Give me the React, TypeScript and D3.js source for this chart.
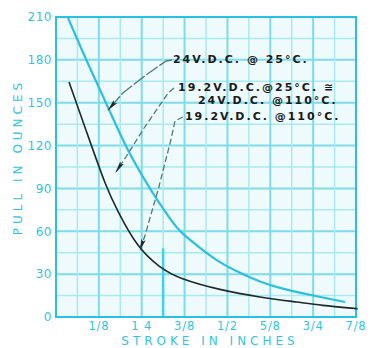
import React from "react";
import * as d3 from "d3";

const W = 378, H = 348;
const M = { left: 56, top: 17, right: 22, bottom: 31 };

const yTicks = [0, 30, 60, 90, 120, 150, 180, 210];
const xTicks = [0.125, 0.25, 0.375, 0.5, 0.625, 0.75, 0.875];
const xTickLabels = ["1/8", "1 4", "3/8", "1/2", "5/8", "3/4", "7/8"];

// 24V.D.C. @25°C (cyan curve)
const cyanX = [0.033, 0.093, 0.152, 0.204, 0.271, 0.295, 0.341, 0.362, 0.42, 0.478, 0.537, 0.595, 0.653, 0.712, 0.843];
const cyanY = [210.5, 177, 147, 118.3, 91, 81.9, 65.8, 59.5, 48.3, 37.8, 30.8, 24.5, 20.3, 16.8, 10.5];
// 19.2V.D.C. @110°C (black curve)
const blackX = [0.038, 0.096, 0.146, 0.178, 0.236, 0.303, 0.362, 0.478, 0.595, 0.712, 0.77, 0.88];
const blackY = [164.5, 125, 91, 74.9, 49, 34.3, 26.6, 18.9, 13.8, 10.2, 8.2, 5.8];

const labelLines = ["24V.D.C. @ 25°C.", "19.2V.D.C.@25°C. ≅", "24V.D.C. @110°C.", "19.2V.D.C. @110°C."];
const labelX = [0.341, 0.356, 0.414, 0.376];
const labelY = [177.8, 158.2, 149.1, 137.9];

const leader1 = [[0.338, 179.9], [0.321, 179.2], [0.2625, 169.4], [0.195, 156.8], [0.152, 144.9]];
const leader2 = [[0.344, 160.3], [0.327, 156.8], [0.257, 132.3], [0.204, 112], [0.175, 101.5]];
const leader3 = [[0.37, 140], [0.347, 137.2], [0.335, 123.9], [0.3, 91], [0.26, 57.4], [0.245, 46.9]];

export default function App() {
  const x = d3.scaleLinear().domain([0, 0.875]).range([M.left, W - M.right]);
  const y = d3.scaleLinear().domain([0, 210]).range([H - M.bottom, M.top]);
  const line = d3.line<[number, number]>().x(d => x(d[0])).y(d => y(d[1])).curve(d3.curveBasis);
  const lline = d3.line<number[]>().x(d => x(d[0])).y(d => y(d[1]));
  const cyan: [number, number][] = cyanX.map((v, i) => [v, cyanY[i]]);
  const black: [number, number][] = blackX.map((v, i) => [v, blackY[i]]);
  const hGrid = d3.range(0, 211, 15);
  const vGrid = d3.range(0, 0.876, 0.0625);
  const cyanCol = "#2cc0e0";
  const txtCol = "#30c4e4";
  return (
    <svg width={W} height={H} style={{ position: "absolute", left: 0, top: 0, background: "#fff" }}>
      <defs>
        <marker id="ah" viewBox="0 0 12 6" refX="11" refY="3" markerWidth="12" markerHeight="6" markerUnits="userSpaceOnUse" orient="auto">
          <path d="M0,0.8 L12,3 L0,5.2 L2,3 Z" fill="#1c2a2a" />
        </marker>
        <clipPath id="pc">
          <rect x={M.left} y={M.top} width={W - M.left - M.right + 3} height={H - M.top - M.bottom} />
        </clipPath>
      </defs>
      <rect x={M.left} y={M.top} width={W - M.left - M.right} height={H - M.top - M.bottom} fill="#eefafb" />
      {hGrid.map(v => (
        <line key={"h" + v} x1={x(0)} x2={x(0.875)} y1={y(v)} y2={y(v)}
          stroke={v % 30 === 0 ? "#7edbea" : "#a9e9f2"} strokeWidth={v % 30 === 0 ? 2 : 1.5} />
      ))}
      {vGrid.map((v, i) => (
        <line key={"v" + i} x1={x(v)} x2={x(v)} y1={y(0)} y2={y(210)}
          stroke={i % 2 === 0 ? "#7edbea" : "#a9e9f2"} strokeWidth={i % 2 === 0 ? 2 : 1.5} />
      ))}
      <line x1={x(0.3125)} x2={x(0.3125)} y1={y(0)} y2={y(48)} stroke="#3fd2ea" strokeWidth={2.5} />
      <rect x={M.left} y={M.top} width={W - M.left - M.right} height={H - M.top - M.bottom} fill="none" stroke={cyanCol} strokeWidth={2} />
      <g clipPath="url(#pc)">
        <path d={line(cyan) || ""} fill="none" stroke={cyanCol} strokeWidth={2.2} />
        <path d={line(black) || ""} fill="none" stroke="#1e2a2a" strokeWidth={1.6} />
      </g>
      {[leader1, leader2, leader3].map((pts, i) => (
        <path key={"l" + i} d={lline(pts) || ""} fill="none" stroke="#4d7a7a" strokeWidth={1.3}
          strokeLinejoin="round" strokeDasharray={i === 0 ? "14,2" : "6,3"} markerEnd="url(#ah)" />
      ))}
      {labelLines.map((t, i) => (
        <text key={"t" + i} x={x(labelX[i])} y={y(labelY[i])} fontFamily="DejaVu Sans" fontSize={11}
          fontWeight="bold" letterSpacing={2} fill="#1a1a1a">{t}</text>
      ))}
      {yTicks.map(v => (
        <text key={"y" + v} x={M.left - 4} y={y(v)} dy="0.36em" textAnchor="end" fontFamily="DejaVu Sans"
          fontSize={12} letterSpacing={0.5} fill={txtCol}>{v}</text>
      ))}
      {xTicks.map((v, i) => (
        <text key={"x" + i} x={x(v)} y={H - M.bottom + 13} textAnchor="middle" fontFamily="DejaVu Sans"
          fontSize={11.5} letterSpacing={0.8} fill={txtCol}>{xTickLabels[i]}</text>
      ))}
      <text x={210} y={345} textAnchor="middle" fontFamily="DejaVu Sans" fontSize={12} letterSpacing={4}
        fill={txtCol}>STROKE  IN  INCHES</text>
      <text transform={`translate(22,${157}) rotate(-90)`} textAnchor="middle" fontFamily="DejaVu Sans"
        fontSize={12} letterSpacing={4} fill={txtCol}>PULL  IN  OUNCES</text>
    </svg>
  );
}
